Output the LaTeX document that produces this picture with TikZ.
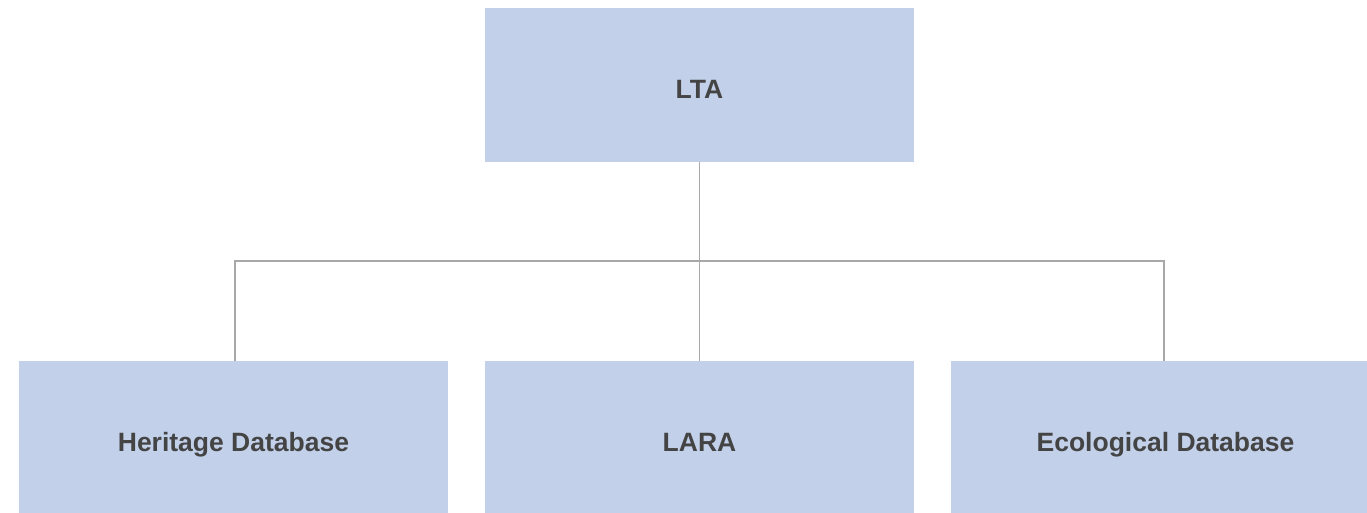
\documentclass[tikz,border=0pt]{standalone}
\usepackage{fontspec}
\setmainfont{Liberation Sans}
\definecolor{boxfill}{HTML}{C2D0EA}
\definecolor{txt}{HTML}{444444}
\definecolor{ln}{HTML}{A8A8A8}
\begin{document}
\begin{tikzpicture}[x=1pt,y=-1pt,
  box/.style={fill=boxfill,draw=none,minimum width=429pt,minimum height=154pt,inner sep=0pt,
    text height=26pt,text depth=0pt,
    font=\fontsize{26.5}{30}\selectfont\bfseries,text=txt},
  conn/.style={draw=ln,line width=1.3pt}]
\useasboundingbox (0,0) rectangle (1367,512);
\clip (0,0) rectangle (1367,512);
\node[box] (lta) at (699.5,85) {LTA};
\node[box] (her) at (233.5,438) {Heritage Database};
\node[box] (lara) at (699.5,438) {LARA};
\node[box] (eco) at (1165.5,438) {Ecological Database};
\coordinate (j) at (699.5,261);
\draw[conn] (lta.south) -- (j);
\draw[conn] (235,361) |- (j) -| (1164,361);
\draw[conn] (j) -- (lara.north);
\end{tikzpicture}
\end{document}
